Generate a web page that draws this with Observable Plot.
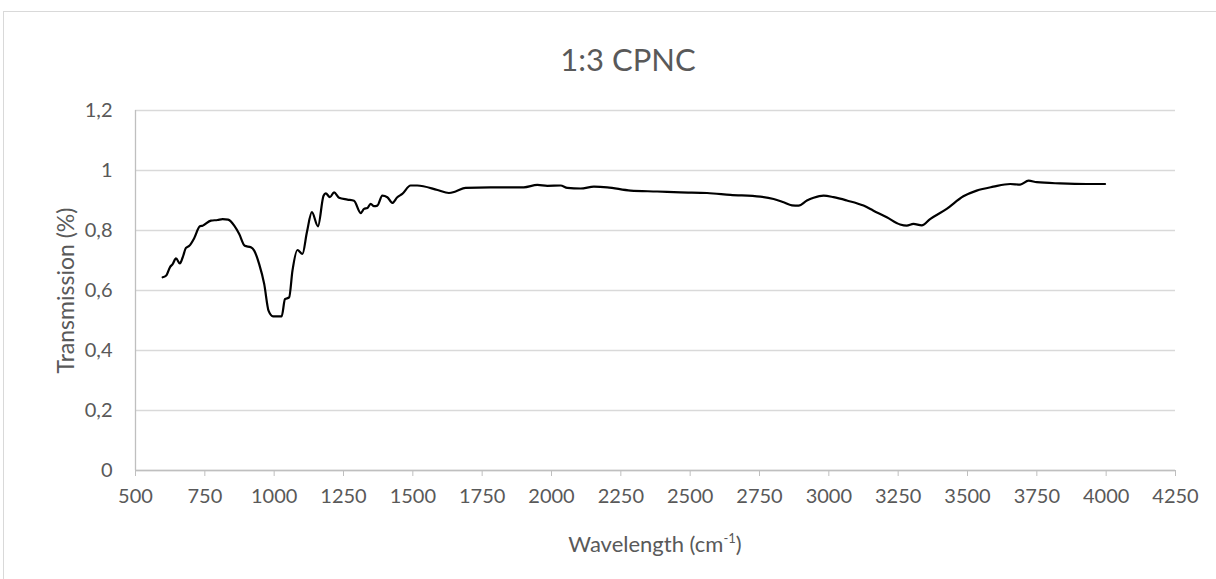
<!DOCTYPE html>
<html>
<head>
<meta charset="utf-8">
<script src="https://cdn.jsdelivr.net/npm/d3@7"></script>
<script src="https://cdn.jsdelivr.net/npm/@observablehq/plot@0.6"></script>
<style>
  body { margin: 0; background: #fff; font-family: Lato, "Open Sans", sans-serif; }
  #wrap { position: relative; width: 1216px; height: 579px; overflow: hidden; background: #fff; }
  #frame { position: absolute; left: 3px; top: 11px; width: 1260px; height: 620px; border: 1px solid #d9d9d9; }
  #title { position: absolute; left: 0; width: 1256px; top: 40px; text-align: center; font-size: 31px; color: #595959; }
  #chart { position: absolute; left: 0; top: 90px; }
  #xlabel { position: absolute; left: 135px; width: 1040px; top: 530px; text-align: center; font-size: 22px; color: #595959; }
  #xlabel sup { font-size: 13px; vertical-align: 9px; line-height: 0; }
  #chart svg [aria-label="y-axis label"] text { font-size: 23px; }
</style>
</head>
<body>
<div id="wrap">
  <div id="frame"></div>
  <div id="title">1:3 CPNC</div>
  <div id="chart"></div>
  <div id="xlabel">Wavelength (cm<sup>-1</sup>)</div>
</div>
<script>
// Wavenumber (cm-1) and transmission values
const wavenumber = [598, 610, 625, 634, 646, 660, 670, 682, 694, 712, 732, 742, 772, 796, 814, 834, 856, 874, 894, 916, 928, 946, 964, 980, 996, 1027, 1039, 1054, 1066, 1084, 1102, 1118, 1136, 1158, 1178, 1186, 1201, 1216, 1234, 1264, 1288, 1312, 1324, 1336, 1348, 1360, 1372, 1390, 1408, 1426, 1444, 1462, 1492, 1516, 1589, 1630, 1654, 1690, 1780, 1900, 1949, 1985, 2033, 2057, 2105, 2153, 2201, 2285, 2381, 2465, 2561, 2645, 2753, 2801, 2837, 2867, 2891, 2921, 2945, 2981, 3017, 3065, 3125, 3161, 3209, 3257, 3281, 3305, 3335, 3365, 3425, 3485, 3533, 3593, 3654, 3690, 3720, 3750, 3834, 3930, 3996];
const transmission = [0.644, 0.649, 0.679, 0.688, 0.707, 0.690, 0.710, 0.742, 0.749, 0.775, 0.814, 0.816, 0.833, 0.835, 0.838, 0.836, 0.816, 0.788, 0.749, 0.744, 0.733, 0.688, 0.622, 0.532, 0.514, 0.514, 0.571, 0.577, 0.666, 0.735, 0.722, 0.794, 0.861, 0.814, 0.916, 0.924, 0.911, 0.927, 0.909, 0.903, 0.899, 0.858, 0.872, 0.875, 0.889, 0.881, 0.883, 0.916, 0.911, 0.892, 0.911, 0.922, 0.950, 0.950, 0.935, 0.925, 0.930, 0.942, 0.944, 0.944, 0.952, 0.949, 0.950, 0.942, 0.940, 0.946, 0.944, 0.933, 0.930, 0.927, 0.925, 0.919, 0.913, 0.905, 0.894, 0.884, 0.883, 0.900, 0.909, 0.916, 0.911, 0.900, 0.883, 0.866, 0.844, 0.820, 0.816, 0.822, 0.817, 0.838, 0.872, 0.914, 0.933, 0.946, 0.955, 0.953, 0.966, 0.961, 0.957, 0.955, 0.955];

const xTicks = [500, 750, 1000, 1250, 1500, 1750, 2000, 2250, 2500, 2750, 3000, 3250, 3500, 3750, 4000, 4250];
const yTicks = [0, 0.2, 0.4, 0.6, 0.8, 1, 1.2];
const yTickLabels = ["0", "0,2", "0,4", "0,6", "0,8", "1", "1,2"];

const data = wavenumber.map((w, i) => ({w, t: transmission[i]}));

const chart = Plot.plot({
  width: 1216,
  height: 480,
  marginLeft: 135,
  marginRight: 41,
  marginTop: 20,
  marginBottom: 100,
  style: {fontFamily: "Lato, 'Open Sans', sans-serif", fontSize: "20px", color: "#595959", background: "transparent"},
  x: {domain: [500, 4250]},
  y: {domain: [0, 1.2]},
  marks: [
    Plot.gridY(yTicks, {stroke: "#d9d9d9", strokeOpacity: 1, strokeWidth: 1.3}),
    Plot.ruleX([500], {stroke: "#bfbfbf", strokeWidth: 1.3}),
    Plot.ruleY([0], {stroke: "#bfbfbf", strokeWidth: 1.3}),
    Plot.axisX(xTicks, {tickSize: 6, tickPadding: 12, stroke: "#bfbfbf", fill: "#595959", fontSize: 20, tickFormat: d => String(d), label: null}),
    Plot.axisY(yTicks, {tickSize: 0, tickPadding: 23, fill: "#595959", fontSize: 20,
      tickFormat: d => yTickLabels[yTicks.indexOf(d)],
      label: "Transmission (%)", labelAnchor: "center", labelArrow: "none", labelOffset: 78}),
    Plot.line(data, {x: "w", y: "t", stroke: "#000", strokeWidth: 2.2, curve: "monotone-x"})
  ]
});
document.getElementById("chart").appendChild(chart);
</script>
</body>
</html>
